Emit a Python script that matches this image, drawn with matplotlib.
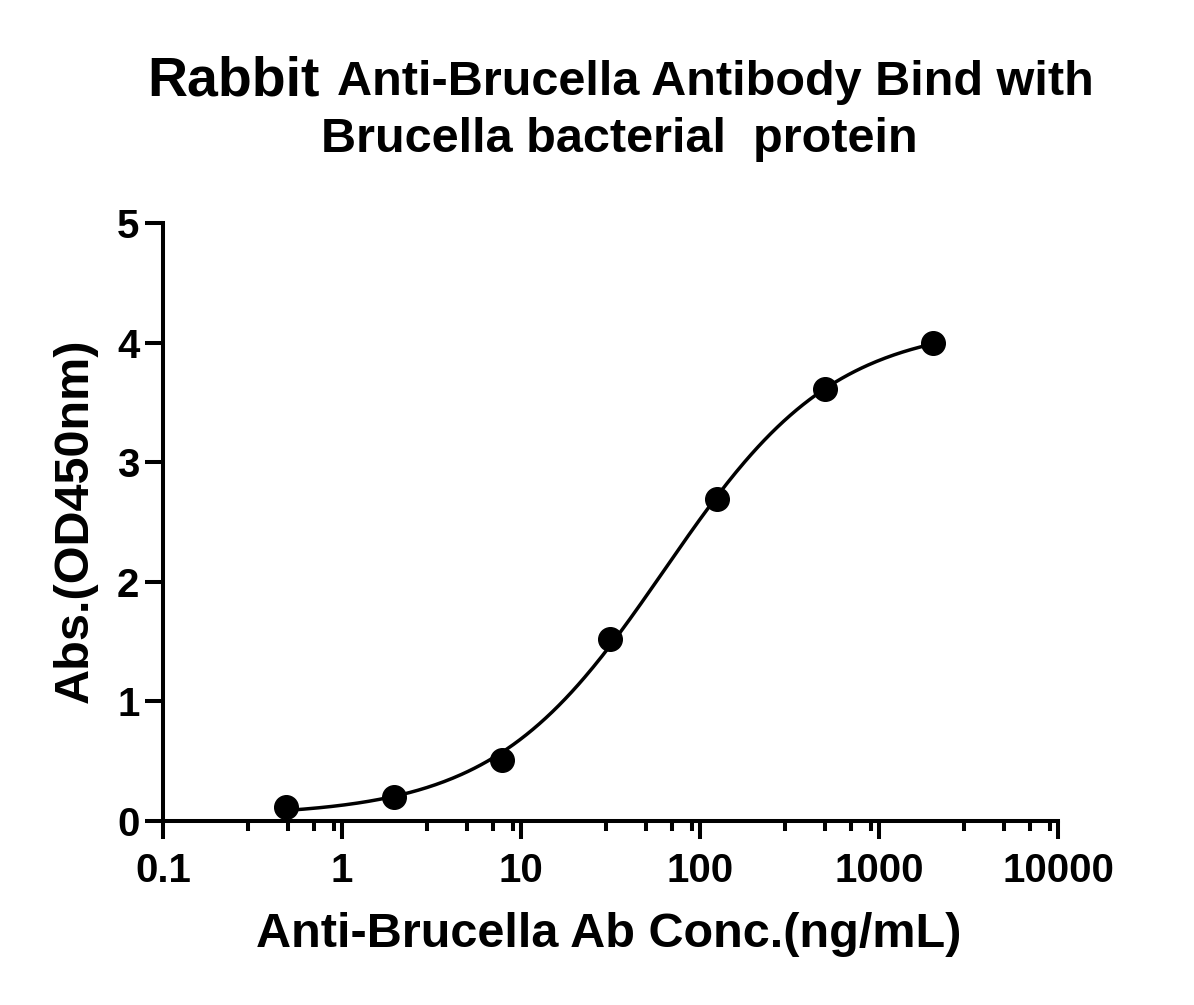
import numpy as np
import matplotlib
matplotlib.use("Agg")
import matplotlib.pyplot as plt
from matplotlib.ticker import FixedLocator, NullFormatter

# data
conc = [0.488, 1.95, 7.8, 31.25, 125, 500, 2000]
od450 = [0.12, 0.20, 0.51, 1.52, 2.69, 3.61, 4.00]
x_ticks = [0.1, 1, 10, 100, 1000, 10000]
x_tick_labels = ["0.1", "1", "10", "100", "1000", "10000"]
y_ticks = [0, 1, 2, 3, 4, 5]

plt.rcParams['font.family'] = ['Liberation Sans', 'DejaVu Sans']
plt.rcParams['font.weight'] = 'bold'


def four_pl(x, p):
    bottom, top, logc, hill = p
    return bottom + (top - bottom) / (1 + 10 ** ((logc - np.log10(x)) * hill))


def fit_four_pl(x, y):
    # small Levenberg-Marquardt, no scipy here
    x = np.asarray(x, float)
    y = np.asarray(y, float)
    p = np.array([y.min(), y.max(), np.log10(np.median(x)), 1.0])
    lam = 1e-3
    for _ in range(200):
        r = y - four_pl(x, p)
        J = np.zeros((len(x), 4))
        for i in range(4):
            dp = np.zeros(4)
            dp[i] = 1e-6
            J[:, i] = (four_pl(x, p + dp) - four_pl(x, p - dp)) / 2e-6
        A = J.T @ J
        g = J.T @ r
        step = np.linalg.solve(A + lam * np.diag(np.diag(A)), g)
        if np.sum((y - four_pl(x, p + step)) ** 2) < np.sum(r ** 2):
            p = p + step
            lam *= 0.3
        else:
            lam *= 10
    return p


params = fit_four_pl(conc, od450)
xs = np.logspace(np.log10(min(conc)), np.log10(max(conc)), 300)

fig = plt.figure(figsize=(11.94, 10.05), dpi=100)
ax = fig.add_axes([163 / 1194, 1 - 821 / 1005, 895 / 1194, 598 / 1005])

ax.plot(xs, four_pl(xs, params), color='black', lw=2.5)
ax.plot(conc, od450, 'o', color='black', ms=17, clip_on=False)

ax.set_xscale('log')
ax.set_xlim(0.1, 10000)
ax.set_ylim(0, 5)
ax.xaxis.set_major_locator(FixedLocator(x_ticks))
ax.set_xticklabels(x_tick_labels)
minor = [m * d for d in x_ticks[:-1] for m in (3, 5, 7, 9)]
ax.xaxis.set_minor_locator(FixedLocator(minor))
ax.xaxis.set_minor_formatter(NullFormatter())
ax.set_yticks(y_ticks)

for side in ['top', 'right']:
    ax.spines[side].set_visible(False)
for side in ['left', 'bottom']:
    ax.spines[side].set_linewidth(2.9)
    ax.spines[side].set_capstyle('projecting')

ax.tick_params(which='major', direction='out', length=13, width=2.9, labelsize=29)
ax.tick_params(axis='x', which='major', pad=9)
ax.tick_params(axis='y', which='major', pad=4)
ax.tick_params(axis='x', which='minor', direction='out', length=7.5, width=2.9)
for lbl in ax.get_xticklabels() + ax.get_yticklabels():
    lbl.set_fontweight('bold')

# axis titles
fig.text(609 / 1194, 1 - 947 / 1005, "Anti-Brucella Ab Conc.(ng/mL)", fontsize=35,
         fontweight='bold', ha='center', va='baseline')
fig.text(75 / 1194, 1 - 521 / 1005, "Abs.(OD450nm)", fontsize=35, fontweight='bold',
         rotation=90, ha='center', va='center')

# two-size title
fig.text(147 / 1194, 1 - 95 / 1005, "Rabbit", fontsize=40, fontweight='bold',
         ha='left', va='baseline')
fig.text(337 / 1194, 1 - 95 / 1005, "Anti-Brucella Antibody Bind with", fontsize=35,
         fontweight='bold', ha='left', va='baseline')
fig.text(619 / 1194, 1 - 152 / 1005, "Brucella bacterial  protein", fontsize=35,
         fontweight='bold', ha='center', va='baseline')

fig.savefig('out.png', dpi=100)
